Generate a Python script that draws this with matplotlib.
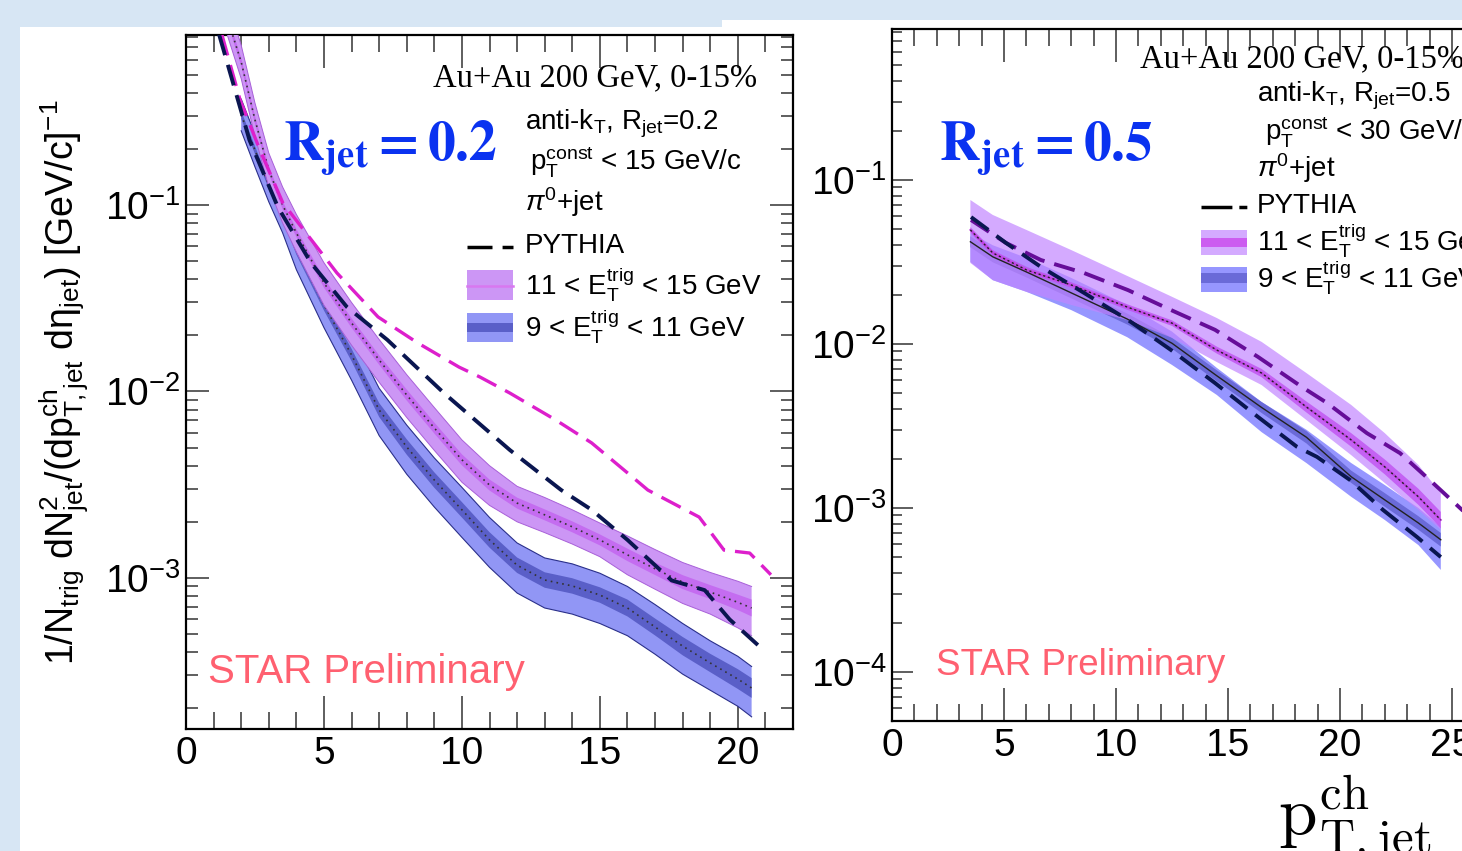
import numpy as np
import matplotlib
matplotlib.use('Agg')
import matplotlib.pyplot as plt
from matplotlib.patches import Rectangle
from matplotlib.lines import Line2D
from matplotlib.ticker import MultipleLocator, LogLocator, NullFormatter

# ---------------- data ----------------
# Left panel: R_jet = 0.2
L_x_p = [1.5, 2, 2.5, 3, 3.5, 4, 5, 6, 7, 8, 9, 10, 11, 12, 13, 14, 15, 16, 17, 18, 19, 20, 20.5]
L_p_c = [1.0, 0.585, 0.286, 0.154, 0.100, 0.0708, 0.0382, 0.0233, 0.01475, 0.00957, 0.00637, 0.0043,
         0.00315, 0.00252, 0.00218, 0.00188, 0.0016, 0.00133, 0.00112, 0.00095, 0.00084, 0.00074, 0.00069]
L_p_hi = [1.23, 0.72, 0.352, 0.19, 0.125, 0.089, 0.049, 0.030, 0.019, 0.0123, 0.0082, 0.0055,
          0.0040, 0.0031, 0.0027, 0.00232, 0.00197, 0.00168, 0.00142, 0.00121, 0.00107, 0.00096, 0.0009]
L_p_lo = [0.813, 0.476, 0.233, 0.125, 0.08, 0.056, 0.029, 0.0177, 0.0112, 0.00725, 0.00483, 0.00326,
          0.00245, 0.0020, 0.00175, 0.00152, 0.0013, 0.00104, 0.00087, 0.00073, 0.00064, 0.00054, 0.00049]
L_p_stat = [0.05, 0.05, 0.05, 0.05, 0.05, 0.05, 0.06, 0.06, 0.06, 0.07, 0.07, 0.07,
            0.07, 0.07, 0.07, 0.07, 0.07, 0.08, 0.08, 0.09, 0.09, 0.10, 0.11]

L_x_b = [2, 2.5, 3, 3.5, 4, 5, 6, 7, 8, 9, 10, 11, 12, 13, 14, 15, 16, 17, 18, 19, 20, 20.5]
L_b_c = [0.304, 0.197, 0.128, 0.0884, 0.0574, 0.0291, 0.0157, 0.00796, 0.00504, 0.00335, 0.00232,
         0.0016, 0.00117, 0.000975, 0.000906, 0.00081, 0.00069, 0.000546, 0.000431, 0.00035, 0.000287, 0.000257]
L_b_hi = [0.37, 0.24, 0.157, 0.109, 0.071, 0.037, 0.0203, 0.0104, 0.0066, 0.0044, 0.00306,
          0.00211, 0.00154, 0.00128, 0.00119, 0.00106, 0.0009, 0.00072, 0.00057, 0.00046, 0.00038, 0.000335]
L_b_lo = [0.25, 0.16, 0.104, 0.071, 0.045, 0.022, 0.0115, 0.0058, 0.0036, 0.0024, 0.00165,
          0.00114, 0.00083, 0.00069, 0.00064, 0.00057, 0.00049, 0.00039, 0.000305, 0.00025, 0.000205, 0.00018]
L_b_stat = [0.05, 0.05, 0.05, 0.05, 0.06, 0.07, 0.08, 0.09, 0.10, 0.10, 0.10,
            0.10, 0.10, 0.10, 0.10, 0.10, 0.11, 0.11, 0.12, 0.12, 0.13, 0.13]

L_py_hi_x = [1.3, 1.96, 2.68, 3.51, 4.35, 5.47, 6.96, 8.4, 9.9, 10.65, 11.74, 13.4, 14.7, 16.0,
             16.74, 18.6, 19.5, 20.43, 21.2]
L_py_hi_y = [0.82, 0.366, 0.197, 0.1026, 0.0708, 0.0432, 0.0251, 0.0182, 0.0135, 0.01196, 0.0098,
             0.00703, 0.0053, 0.00366, 0.00296, 0.00212, 0.00141, 0.00136, 0.00104]
L_py_lo_x = [1.2, 2.3, 3.33, 4.53, 5.83, 7.3, 9.35, 11.74, 13.6, 14.7, 16.0, 17.6, 18.8, 19.7, 20.8]
L_py_lo_y = [0.82, 0.223, 0.0975, 0.0489, 0.0284, 0.0189, 0.0098, 0.00485, 0.00296, 0.00232,
             0.0016, 0.00097, 0.00086, 0.0006, 0.000427]

# Right panel: R_jet = 0.5
R_x = [3.5, 4.5, 6, 8, 10.5, 12.5, 14.5, 16.5, 18.5, 20.5, 22, 23.5, 24.5]
R_p_c = [0.0496, 0.0359, 0.0283, 0.0229, 0.0168, 0.0134, 0.00918, 0.00665, 0.00413, 0.0026, 0.00178, 0.00117, 0.000845]
R_p_hi = [0.0755, 0.0612, 0.0496, 0.0374, 0.026, 0.0194, 0.0144, 0.0103, 0.00665, 0.00425, 0.00286, 0.00183, 0.00123]
R_p_lo = [0.0312, 0.0245, 0.0208, 0.0173, 0.014, 0.0109, 0.00776, 0.00562, 0.00344, 0.0021, 0.00142, 0.000973, 0.000735]
R_p_stat = [0.04, 0.04, 0.04, 0.04, 0.04, 0.04, 0.05, 0.06, 0.08, 0.10, 0.11, 0.12, 0.12]
R_b_c = [0.042, 0.034, 0.0275, 0.0205, 0.0142, 0.0101, 0.0064, 0.0041, 0.0027, 0.00155, 0.00112, 0.00081, 0.00064]
R_b_hi = [0.0475, 0.040, 0.0335, 0.0253, 0.0173, 0.0119, 0.00715, 0.00443, 0.003, 0.00188, 0.00138, 0.001, 0.000766]
R_b_lo = [0.0316, 0.0245, 0.0208, 0.0161, 0.011, 0.00745, 0.00489, 0.0029, 0.00188, 0.00117, 0.000845, 0.000594, 0.000419]
R_b_stat = [0.08, 0.08, 0.08, 0.08, 0.08, 0.08, 0.08, 0.08, 0.09, 0.09, 0.10, 0.10, 0.10]

R_py_lo_x = [3.53, 5.09, 6.65, 8.57, 10.54, 12.46, 14.42, 16.34, 18.08, 18.97, 20.45, 21.92, 23.44, 24.5]
R_py_lo_y = [0.0594, 0.0413, 0.0295, 0.0205, 0.014, 0.00918, 0.00578, 0.00359, 0.00236, 0.00205,
             0.00148, 0.000973, 0.000665, 0.000502]
R_py_hi_x = [3.53, 5.09, 6.65, 8.57, 10.54, 12.46, 14.42, 16.34, 18.3, 19.42, 21.2, 22.68, 24.15, 25.45, 26.5]
R_py_hi_y = [0.057, 0.0413, 0.0325, 0.0271, 0.0213, 0.0161, 0.0122, 0.00834, 0.00547, 0.00437,
             0.00286, 0.00216, 0.00142, 0.000973, 0.00073]

# ---------------- figure ----------------
W, H = 1462, 851
plt.rcParams['font.family'] = ['Liberation Sans', 'DejaVu Sans']
plt.rcParams['mathtext.fontset'] = 'custom'
plt.rcParams['mathtext.rm'] = 'Liberation Sans'
plt.rcParams['mathtext.it'] = 'Liberation Sans:italic'
plt.rcParams['mathtext.bf'] = 'Liberation Sans:bold'

fig = plt.figure(figsize=(W / 100, H / 100), dpi=100)
fig.patch.set_facecolor('#d7e6f4')


def fx(px):
    return px / W


def fy(py):
    return 1 - py / H


fig.add_artist(Rectangle((fx(20), 0), fx(722) - fx(20), fy(27), transform=fig.transFigure,
                         facecolor='white', edgecolor='none', zorder=-5))
fig.add_artist(Rectangle((fx(722), 0), 1 - fx(722), fy(20), transform=fig.transFigure,
                         facecolor='white', edgecolor='none', zorder=-5))

axL = fig.add_axes([fx(186), fy(729), fx(793) - fx(186), fy(35) - fy(729)])
axR = fig.add_axes([fx(892), fy(721), 672 / W, (721 - 29) / H])


def style(ax, xmax, ylim, ymaj, ymin):
    ax.set_yscale('log')
    ax.set_xlim(0, xmax)
    ax.set_ylim(*ylim)
    ax.set_facecolor('white')
    ax.xaxis.set_major_locator(MultipleLocator(5))
    ax.xaxis.set_minor_locator(MultipleLocator(1))
    ax.yaxis.set_major_locator(LogLocator(base=10, numticks=30))
    ax.yaxis.set_minor_locator(LogLocator(base=10, subs=np.arange(2, 10), numticks=30))
    ax.yaxis.set_minor_formatter(NullFormatter())
    ax.tick_params(which='both', direction='in', top=True, right=True, color='#333333',
                   width=1.1, labelsize=28, labelcolor='black')
    ax.tick_params(axis='x', which='major', length=23.8, pad=5)
    ax.tick_params(axis='x', which='minor', length=12.2)
    ax.tick_params(axis='y', which='major', length=ymaj, pad=4)
    ax.tick_params(axis='y', which='minor', length=ymin)
    for s in ax.spines.values():
        s.set_linewidth(1.6)
        s.set_color('black')


style(axL, 22, (10 ** -3.81, 10 ** -0.0885), 16.5, 8.6)
style(axR, 30, (10 ** -4.299, 10 ** -0.0793), 15, 7.2)


def inner(c, e):
    c = np.asarray(c)
    e = np.asarray(e)
    return c / (1 + e), c * (1 + e)


# ---- left panel ----
ax = axL
ax.fill_between(L_x_b, L_b_lo, L_b_hi, facecolor='#9196f5', edgecolor='none', zorder=2)
lo, hi = inner(L_b_c, L_b_stat)
ax.fill_between(L_x_b, lo, hi, facecolor='#5a5fc8', edgecolor='none', zorder=2.1)
ax.plot(L_x_b, L_b_lo, color='#2a2f8a', lw=0.8, zorder=2.2)
ax.plot(L_x_b, L_b_hi, color='#2a2f8a', lw=0.8, zorder=2.2)
ax.plot(L_x_b, L_b_c, color='#333333', lw=1.2, ls=(0, (1, 2.5)), zorder=2.3)

ax.fill_between(L_x_p, L_p_lo, L_p_hi, facecolor='#cc96f5', edgecolor='none', zorder=3)
lo, hi = inner(L_p_c, L_p_stat)
ax.fill_between(L_x_p, lo, hi, facecolor='#c46cf0', edgecolor='none', zorder=3.1)
ax.plot(L_x_p, L_p_lo, color='#a860d8', lw=0.7, zorder=3.2)
ax.plot(L_x_p, L_p_hi, color='#a860d8', lw=0.7, zorder=3.2)
ax.plot(L_x_p, L_p_c, color='#333333', lw=1.2, ls=(0, (1, 2.5)), zorder=3.3)

ax.plot(L_py_hi_x, L_py_hi_y, color='#dd1fcc', lw=2.4, dashes=(6.5, 3.0), zorder=4)
ax.plot(L_py_lo_x, L_py_lo_y, color='#0a1650', lw=2.8, dashes=(5.5, 2.6), zorder=4.1)

# ---- right panel ----
ax = axR
ax.fill_between(R_x, R_b_lo, R_b_hi, facecolor='#9696ff', edgecolor='none', zorder=2)
lo, hi = inner(R_b_c, R_b_stat)
ax.fill_between(R_x, lo, hi, facecolor='#6a6ad8', edgecolor='none', zorder=2.1)
ax.fill_between(R_x, R_p_lo, R_p_hi, facecolor='#c286ff', alpha=0.7, edgecolor='none', zorder=3)
lo, hi = inner(R_p_c, R_p_stat)
ax.fill_between(R_x, lo, hi, facecolor='#c050f0', alpha=0.8, edgecolor='none', zorder=3.1)
ax.plot(R_x, R_b_c, color='#222222', lw=1.0, zorder=3.3)
ax.plot(R_x, R_p_c, color='#c040e0', lw=1.4, zorder=3.3)
ax.plot(R_x, R_p_c, color='#222222', lw=1.0, ls=(0, (1.5, 2)), zorder=3.4)
ax.plot(R_py_hi_x, R_py_hi_y, color='#660d99', lw=2.8, dashes=(5.5, 2.6), zorder=4)
ax.plot(R_py_lo_x, R_py_lo_y, color='#0a1650', lw=2.8, dashes=(5.5, 2.6), zorder=4.1)


# ---------------- texts ----------------
def ftext(px, py, s, **kw):
    kw.setdefault('va', 'baseline')
    kw.setdefault('fontsize', 20)
    return fig.text(fx(px), fy(py), s, **kw)


blue = '#0a32f0'
star = '#ff6070'

# left
ftext(757, 86, 'Au+Au 200 GeV, 0-15%', ha='right', family='Liberation Serif', fontsize=23.5)
ftext(525, 130, r'anti-k$_{\mathrm{T}}$, R$_{\mathrm{jet}}$=0.2')
ftext(530, 170, r'p$_{\mathrm{T}}^{\mathrm{const}}$ < 15 GeV/c')
ftext(525, 211, r'$\pi^{0}$+jet')
ftext(525, 253, 'PYTHIA')
ftext(525, 295, r'11 < E$_{\mathrm{T}}^{\mathrm{trig}}$ < 15 GeV')
ftext(525, 337, r'9 < E$_{\mathrm{T}}^{\mathrm{trig}}$ < 11 GeV')
ftext(283, 160, r'$\mathbf{R}_{\mathbf{jet}}\mathbf{=0.2}$', math_fontfamily='stix',
      fontsize=40, color=blue)
ftext(208, 683, 'STAR Preliminary', color=star, fontsize=29)

fig.add_artist(Line2D([fx(467), fx(513)], [fy(247), fy(247)], transform=fig.transFigure,
                      color='black', lw=2.5, dashes=(7.2, 2.9)))
fig.add_artist(Rectangle((fx(467), fy(300)), fx(513) - fx(467), fy(270) - fy(300),
                         transform=fig.transFigure, facecolor='#cc96f5', edgecolor='none'))
fig.add_artist(Line2D([fx(467), fx(513)], [fy(286), fy(286)], transform=fig.transFigure,
                      color='#d878f0', lw=1.8))
fig.add_artist(Rectangle((fx(467), fy(342)), fx(513) - fx(467), fy(313) - fy(342),
                         transform=fig.transFigure, facecolor='#9196f5', edgecolor='none'))
fig.add_artist(Rectangle((fx(467), fy(332)), fx(513) - fx(467), fy(323) - fy(332),
                         transform=fig.transFigure, facecolor='#5a5fc8', edgecolor='none'))

# right
ftext(1140, 67, 'Au+Au 200 GeV, 0-15%', family='Liberation Serif', fontsize=23.5)
ftext(1257, 102, r'anti-k$_{\mathrm{T}}$, R$_{\mathrm{jet}}$=0.5')
ftext(1265, 140, r'p$_{\mathrm{T}}^{\mathrm{const}}$ < 30 GeV/c')
ftext(1257, 177, r'$\pi^{0}$+jet')
ftext(1257, 213, 'PYTHIA')
ftext(1257, 250, r'11 < E$_{\mathrm{T}}^{\mathrm{trig}}$ < 15 GeV')
ftext(1257, 287, r'9 < E$_{\mathrm{T}}^{\mathrm{trig}}$ < 11 GeV')
ftext(939, 160, r'$\mathbf{R}_{\mathbf{jet}}\mathbf{=0.5}$', math_fontfamily='stix',
      fontsize=40, color=blue)
ftext(936, 675, 'STAR Preliminary', color=star, fontsize=26.5)

fig.add_artist(Line2D([fx(1201), fx(1247)], [fy(207), fy(207)], transform=fig.transFigure,
                      color='black', lw=2.5, dashes=(8.9, 2.0, 2.3, 2.0)))
fig.add_artist(Rectangle((fx(1201), fy(255)), fx(1247) - fx(1201), fy(230) - fy(255),
                         transform=fig.transFigure, facecolor='#d4aaff', edgecolor='none'))
fig.add_artist(Rectangle((fx(1201), fy(247)), fx(1247) - fx(1201), fy(238) - fy(247),
                         transform=fig.transFigure, facecolor='#cc5cf0', edgecolor='none'))
fig.add_artist(Rectangle((fx(1201), fy(292)), fx(1247) - fx(1201), fy(267) - fy(292),
                         transform=fig.transFigure, facecolor='#9696ff', edgecolor='none'))
fig.add_artist(Rectangle((fx(1201), fy(283)), fx(1247) - fx(1201), fy(273) - fy(283),
                         transform=fig.transFigure, facecolor='#6a6ad8', edgecolor='none'))

# axis titles
fig.text(fx(64), fy(382),
         r'1/N$_{\mathrm{trig}}$ dN$^{2}_{\mathrm{jet}}$/(dp$^{\mathrm{ch}}_{\mathrm{T,jet}}$ '
         r'd$\mathrm{\eta}_{\mathrm{jet}}$) [GeV/c]$^{-1}$',
         rotation=90, ha='center', va='center', fontsize=27)
ftext(1278, 837, r'$\mathrm{p}^{\mathrm{ch}}_{\mathrm{T,jet}}$', math_fontfamily='cm', fontsize=50)

fig.savefig('out.png', dpi=100, facecolor=fig.get_facecolor())
